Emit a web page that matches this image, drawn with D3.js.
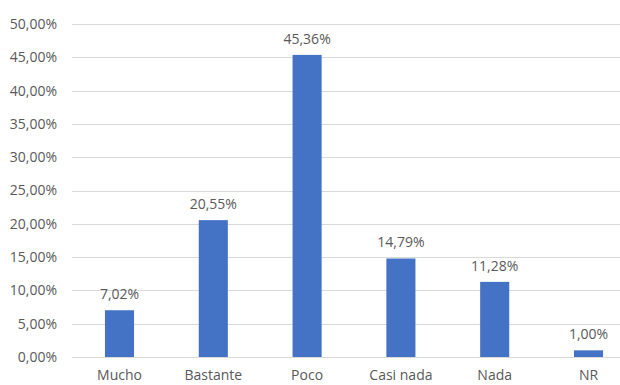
<!DOCTYPE html>
<html><head><meta charset="utf-8">
<script src="https://cdn.jsdelivr.net/npm/d3@7"></script>
<style>body{margin:0;background:#fff}svg{display:block}text{font-family:"Open Sans","Noto Sans",sans-serif;fill:#595959}</style>
</head><body>
<svg id="c" width="620" height="385"></svg>
<script>
const categories = ["Mucho","Bastante","Poco","Casi nada","Nada","NR"];
const values = [7.02, 20.55, 45.36, 14.79, 11.28, 1.00];
const yTicks = [0,5,10,15,20,25,30,35,40,45,50];

const svg = d3.select("#c");
const x = d3.scaleBand().domain(categories).range([72.6, 635.4]).paddingInner(0.69).paddingOuter(0.345);
const y = d3.scaleLinear().domain([0,50]).range([357, 24]);
const fmt = v => v.toFixed(2).replace(".", ",") + "%";

const yAxis = d3.axisLeft(y).tickValues(yTicks).tickFormat(fmt).tickSize(0).tickPadding(15);
const gy = svg.append("g").attr("transform","translate(72,0)").call(yAxis);
gy.select(".domain").remove();
gy.selectAll("text").attr("font-size",14).style("fill","#595959");

svg.append("g").selectAll("line").data(yTicks).join("line")
  .attr("x1",72).attr("x2",635).attr("y1",d=>Math.round(y(d))+0.5).attr("y2",d=>Math.round(y(d))+0.5)
  .attr("stroke","#d9d9d9").attr("stroke-width",1);

svg.append("g").selectAll("rect").data(values).join("rect")
  .attr("x",(d,i)=>x(categories[i])).attr("width",x.bandwidth())
  .attr("y",d=>y(d)).attr("height",d=>y(0)-y(d)).attr("fill","#4472C4");

svg.append("g").selectAll("text").data(values).join("text")
  .attr("x",(d,i)=>x(categories[i])+x.bandwidth()/2).attr("y",d=>y(d)-11)
  .attr("text-anchor","middle").attr("font-size",14).text(fmt);

const xAxis = d3.axisBottom(x).tickSize(0).tickPadding(13);
const gx = svg.append("g").attr("transform","translate(0,357)").call(xAxis);
gx.select(".domain").remove();
gx.selectAll("text").attr("font-size",14).style("fill","#595959");
</script>
</body></html>
